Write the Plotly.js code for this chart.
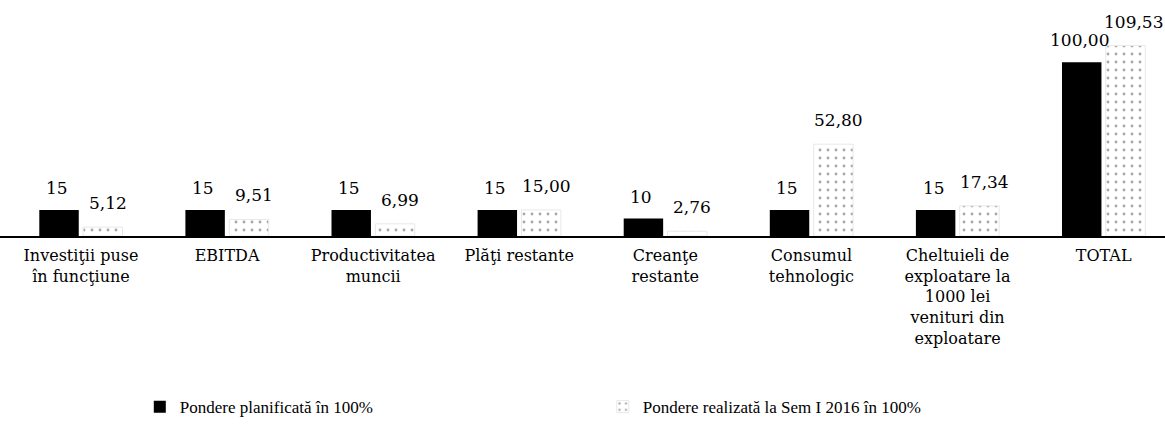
<!DOCTYPE html>
<html><head><meta charset="utf-8">
<script src="https://cdn.plot.ly/plotly-3.0.1.min.js"></script>
<style>html,body{margin:0;padding:0;background:#fff}</style>
</head><body>
<div id="chart" style="width:1165px;height:430px"></div>
<script>
const categories = [
  "Investiţii puse<br>în funcţiune",
  "EBITDA",
  "Productivitatea<br>muncii",
  "Plăţi restante",
  "Creanţe<br>restante",
  "Consumul<br>tehnologic",
  "Cheltuieli de<br>exploatare la<br>1000 lei<br>venituri din<br>exploatare",
  "TOTAL"
];
const planned = [15, 15, 15, 15, 10, 15, 15, 100];
const realized = [5.12, 9.51, 6.99, 15.00, 2.76, 52.80, 17.34, 109.53];
const plannedLabels = ["15", "15", "15", "15", "10", "15", "15", "100,00"];
const realizedLabels = ["5,12", "9,51", "6,99", "15,00", "2,76", "52,80", "17,34", "109,53"];
const seriesNames = ["Pondere planificată în 100%", "Pondere realizată la Sem I 2016 în 100%"];

const font = "DejaVu Serif, serif";
const traces = [
  {type: "bar", x: categories, y: planned, name: seriesNames[0],
   marker: {color: "#000000"}, hoverinfo: "skip"},
  {type: "bar", x: categories, y: realized, name: seriesNames[1],
   marker: {color: "#ffffff", line: {color: "#e8e8e8", width: 1},
            pattern: {shape: ".", fgcolor: "#a8a8a8", bgcolor: "#ffffff", size: 8, solidity: 0.1}},
   hoverinfo: "skip"}
];

const annotations = [];
categories.forEach((c, i) => {
  annotations.push({x: c, y: planned[i], xref: "x", yref: "y", text: plannedLabels[i],
    showarrow: false, yanchor: "bottom", yshift: 10, xshift: -24,
    font: {family: font, size: 17, color: "#000"}});
  const last = i === categories.length - 1;
  annotations.push({x: c, y: realized[i], xref: "x", yref: "y", text: realizedLabels[i],
    showarrow: false, yanchor: "bottom", yshift: 12, xshift: last ? 30 : 27,
    font: {family: font, size: 17, color: "#000"}});
});

const layout = {
  width: 1165, height: 430,
  margin: {l: 0, r: 0, t: 10, b: 194},
  paper_bgcolor: "#fff", plot_bgcolor: "#fff",
  barmode: "group", bargap: 0.4, bargroupgap: 0.1,
  showlegend: true,
  legend: {orientation: "h", x: 0.12, y: -0.757, xanchor: "left", yanchor: "middle",
           font: {family: "Liberation Serif, serif", size: 17, color: "#000"},
           entrywidth: 418, entrywidthmode: "pixels", itemwidth: 30},
  xaxis: {type: "category", range: [-0.554, 7.42], showline: true, linecolor: "#000", linewidth: 1.5,
          ticks: "", showgrid: false, zeroline: false, fixedrange: true, ticklabelstandoff: 4,
          tickfont: {family: font, size: 16, color: "#000"}},
  yaxis: {range: [0, 130], visible: false, showgrid: false, zeroline: false, fixedrange: true},
  annotations: annotations,
  font: {family: font, color: "#000"}
};
Plotly.newPlot("chart", traces, layout, {displayModeBar: false, staticPlot: true});
</script>
</body></html>
